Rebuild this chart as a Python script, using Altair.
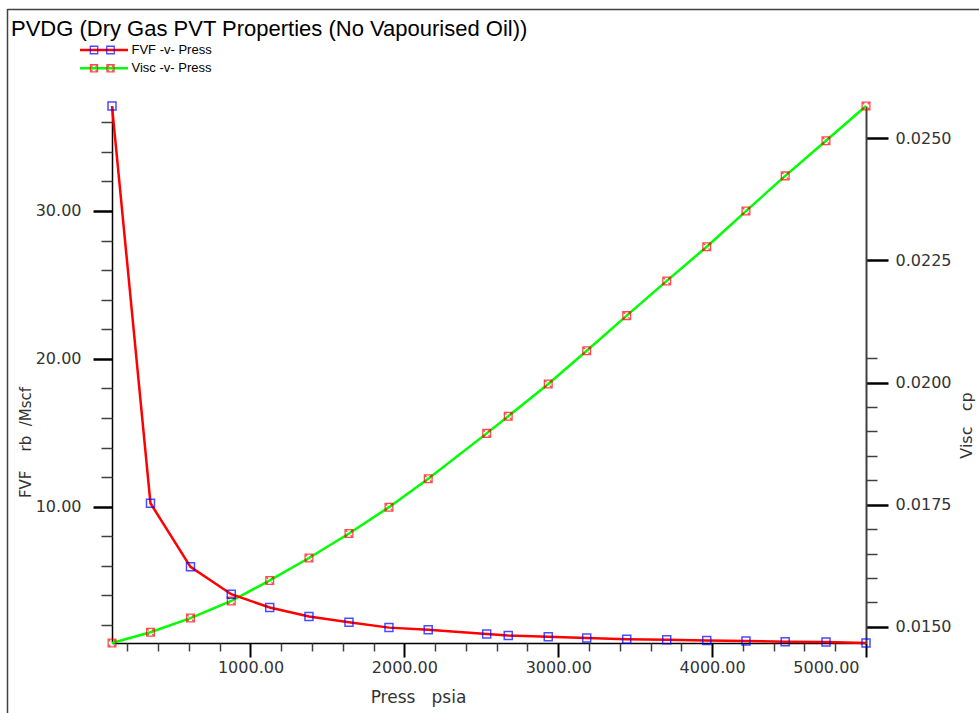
import altair as alt
import pandas as pd

# PVDG table: pressure (psia), gas formation volume factor (rb/Mscf), gas viscosity (cp)
pressure = [100, 350, 610, 875, 1125, 1380, 1640, 1900, 2155, 2535,
            2675, 2935, 3185, 3445, 3705, 3965, 4220, 4475, 4740, 5000]
fvf = [37.10, 10.23, 5.93, 4.08, 3.18, 2.57, 2.19, 1.82, 1.67, 1.39,
       1.28, 1.20, 1.11, 1.04, 1.00, 0.95, 0.92, 0.86, 0.84, 0.78]
visc = [0.01467, 0.01489, 0.01518, 0.01553, 0.01595, 0.01641, 0.01691, 0.01745, 0.01803, 0.01896,
        0.01931, 0.01997, 0.02065, 0.02137, 0.02208, 0.02278, 0.02351, 0.02423, 0.02495, 0.02566]

series_names = ["FVF -v- Press", "Visc -v- Press"]
chart_title = "PVDG (Dry Gas PVT Properties (No Vapourised Oil))"

# tick positions
press_major = [1000, 2000, 3000, 4000, 5000]
press_minor = [p for p in range(200, 5000, 200) if p % 1000]
fvf_major = [10, 20, 30]
fvf_minor = [v for v in range(2, 38, 2) if v % 10]
visc_major = [0.0150, 0.0175, 0.0200, 0.0225, 0.0250]
visc_minor = [round(0.0150 + 0.0005 * i, 4) for i in range(1, 12) if i % 5]

df = pd.DataFrame({"pressure": pressure, "fvf": fvf, "visc": visc})

FONT = "DejaVu Sans"
LABEL_GREY = "#333333"
W, H = 754, 537

x_scale = alt.Scale(domain=[min(pressure), max(pressure)], nice=False, zero=False)
fvf_scale = alt.Scale(domain=[min(fvf), max(fvf)], nice=False, zero=False)
visc_scale = alt.Scale(domain=[min(visc), max(visc)], nice=False, zero=False)

label_style = dict(labelFont=FONT, labelFontSize=16, labelColor=LABEL_GREY, labelOverlap=False)
title_style = dict(titleFont=FONT, titleColor=LABEL_GREY, titleFontWeight="normal",
                   titleAlign="center", titleBaseline="middle")

x_major = alt.Axis(orient="bottom", values=press_major, format=".2f", tickSize=14, tickWidth=2,
                   tickColor="black", domainColor="black", domainWidth=1.5, labelPadding=2,
                   labelFlush=True, labelFlushOffset=-7, grid=False,
                   title="Press\u00a0\u00a0\u00a0psia", titleFontSize=17, titleX=306, titleY=54,
                   **label_style, **title_style)
x_minor = alt.Axis(orient="bottom", values=press_minor, labels=False, domain=False, tickSize=8,
                   tickWidth=1.5, tickColor="#404040", grid=False, title=None)

y_fvf_major = alt.Axis(orient="left", values=fvf_major, format=".2f", tickSize=19, tickWidth=2.5,
                       tickColor="black", domainColor="black", domainWidth=1.5, labelPadding=12,
                       grid=False, title="FVF\u00a0\u00a0\u00a0\u00a0rb\u00a0\u00a0/Mscf",
                       titleFontSize=15, titleAngle=270, titleX=-87, titleY=336,
                       **label_style, **title_style)
y_fvf_minor = alt.Axis(orient="left", values=fvf_minor, labels=False, domain=False, tickSize=11,
                       tickWidth=1.5, tickColor="#404040", grid=False, title=None)

y_visc_major = alt.Axis(orient="right", values=visc_major, format=".4f", tickSize=22, tickWidth=2.5,
                        tickColor="black", domainColor="#404040", domainWidth=2, labelPadding=7,
                        grid=False, title="Visc\u00a0\u00a0\u00a0cp", titleFontSize=16, titleAngle=270,
                        titleX=100, titleY=319, **label_style, **title_style)
y_visc_minor = alt.Axis(orient="right", values=visc_minor, labels=False, domain=False, tickSize=11,
                        tickWidth=1.5, tickColor="#404040", grid=False, title=None)

# square marker with short inward corner strokes for the viscosity series
visc_shape = ("M-1,-1L1,-1L1,1L-1,1Z"
              "M-1,-1L-0.45,-0.45M1,-1L0.45,-0.45M1,1L0.45,0.45M-1,1L-0.45,0.45")
fvf_shape = "square"

base = alt.Chart(df)

visc_line = base.mark_line(color="#00ff00", strokeWidth=2.5).encode(
    x=alt.X("pressure:Q", scale=x_scale, axis=None),
    y=alt.Y("visc:Q", scale=visc_scale, axis=y_visc_major),
)
visc_pts = base.mark_point(shape=visc_shape, filled=False, color="#ff0000", size=60, strokeWidth=1.3).encode(
    x=alt.X("pressure:Q", scale=x_scale, axis=None),
    y=alt.Y("visc:Q", scale=visc_scale, axis=y_visc_minor),
)
fvf_line = base.mark_line(color="#ff0000", strokeWidth=2.5).encode(
    x=alt.X("pressure:Q", scale=x_scale, axis=x_major),
    y=alt.Y("fvf:Q", scale=fvf_scale, axis=y_fvf_major),
)
fvf_pts = base.mark_point(shape=fvf_shape, filled=False, color="#0000ff", size=64, strokeWidth=1.5).encode(
    x=alt.X("pressure:Q", scale=x_scale, axis=x_minor),
    y=alt.Y("fvf:Q", scale=fvf_scale, axis=y_fvf_minor),
)

# window frame
frame_df = pd.DataFrame({"edge": ["frame"]})
frame_left = alt.Chart(frame_df).mark_rule(color="#404040", strokeWidth=1.5).encode(
    x=alt.value(-104.5), y=alt.value(-97), y2=alt.value(H + 70))
frame_top = alt.Chart(frame_df).mark_rule(color="#404040", strokeWidth=1.5).encode(
    x=alt.value(-104.5), x2=alt.value(W + 113), y=alt.value(-96.5))

title_text = alt.Chart(pd.DataFrame({"t": [chart_title]})).mark_text(
    font="Liberation Sans", fontSize=22, align="left", baseline="alphabetic", color="black"
).encode(x=alt.value(-101), y=alt.value(-70.5), text="t:N")

# legend: line swatch with two markers, then the series name
def legend_row(name, line_color, marker_color, shape, size, y):
    row = pd.DataFrame({"name": [name]})
    swatch = alt.Chart(row).mark_rule(color=line_color, strokeWidth=2.5).encode(
        x=alt.value(-32), x2=alt.value(16), y=alt.value(y))
    m1 = alt.Chart(row).mark_point(shape=shape, filled=False, color=marker_color, size=size,
                                   strokeWidth=1.3).encode(x=alt.value(-18), y=alt.value(y))
    m2 = alt.Chart(row).mark_point(shape=shape, filled=False, color=marker_color, size=size,
                                   strokeWidth=1.3).encode(x=alt.value(-1.5), y=alt.value(y))
    label = alt.Chart(row).mark_text(font="Liberation Sans", fontSize=13, align="left",
                                     baseline="middle", color="black").encode(
        x=alt.value(19.5), y=alt.value(y), text="name:N")
    return [swatch, m1, m2, label]

legend_layers = (legend_row(series_names[0], "#ff0000", "#0000ff", fvf_shape, 56, -56)
                 + legend_row(series_names[1], "#00ff00", "#ff0000", visc_shape, 50, -37.7))

chart = alt.layer(
    visc_line, visc_pts, fvf_line, fvf_pts, frame_left, frame_top, title_text, *legend_layers
).resolve_scale(
    y="independent"
).resolve_axis(
    x="independent", y="independent"
).properties(
    width=W, height=H,
    autosize=alt.AutoSizeParams(type="none"),
    padding={"left": 112, "top": 106, "right": 113, "bottom": 70},
    background="white",
).configure_view(stroke=None)

chart.save("out.html", embed_options={"renderer": "svg", "actions": False})
